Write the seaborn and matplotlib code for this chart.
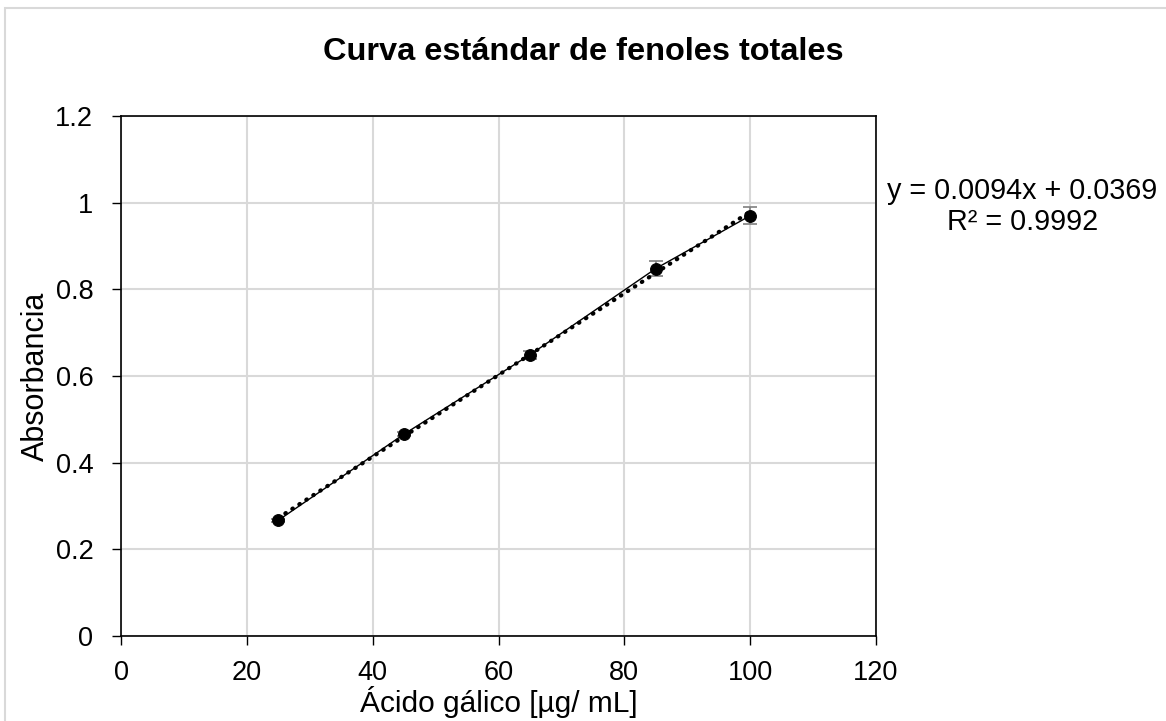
import matplotlib
matplotlib.use("Agg")
import matplotlib.pyplot as plt
import seaborn as sns
import pandas as pd
from matplotlib.patches import Rectangle

concentracion = [25, 45, 65, 85, 100]
absorbancia = [0.267, 0.466, 0.649, 0.848, 0.970]
error = [0.004, 0.005, 0.009, 0.018, 0.020]
x_ticks = [0, 20, 40, 60, 80, 100, 120]
y_ticks = [0, 0.2, 0.4, 0.6, 0.8, 1, 1.2]
y_tick_labels = ["0", "0.2", "0.4", "0.6", "0.8", "1", "1.2"]
titulo = "Curva estándar de fenoles totales"
ecuacion = "y = 0.0094x + 0.0369\nR² = 0.9992"

sns.set_theme(style="white")
plt.rcParams['font.family'] = ['Liberation Sans', 'DejaVu Sans']

df = pd.DataFrame({"x": concentracion, "y": absorbancia, "e": error})

fig = plt.figure(figsize=(11.66, 7.21), dpi=100)
ax = fig.add_axes([0.1038, 0.1179, 0.6475, 0.7212])

fig.patches.append(Rectangle((5/1166, -0.05), 1.05, 1 + 0.05 - 8/721,
                             transform=fig.transFigure, fill=False,
                             edgecolor="#d9d9d9", linewidth=1.5, zorder=0))

ax.grid(True, color="#d9d9d9", linewidth=1.5)
ax.set_axisbelow(True)

ax.errorbar(df["x"], df["y"], yerr=df["e"], fmt="none", ecolor="#7f7f7f",
            elinewidth=1.2, capsize=5, capthick=1.2, zorder=3)
sns.regplot(data=df, x="x", y="y", ax=ax, ci=None, scatter=False, truncate=True,
            line_kws=dict(color="black", linestyle=(0, (0.15, 1.85)), linewidth=3.0,
                          dash_capstyle="round", zorder=4))
sns.lineplot(data=df, x="x", y="y", ax=ax, color="black", linewidth=1,
             marker="o", markersize=8.5, markeredgecolor="black", zorder=5)

ax.set_xlim(0, 120)
ax.set_ylim(0, 1.2)
ax.set_xticks(x_ticks)
ax.set_yticks(y_ticks)
ax.set_yticklabels(y_tick_labels)
ax.tick_params(axis="both", labelsize=19.5, length=6.5, width=1, direction="out",
               colors="black", left=True, bottom=True)
ax.tick_params(axis="x", pad=11)
ax.tick_params(axis="y", pad=13.5)
for s in ax.spines.values():
    s.set_color("black")
    s.set_linewidth(1.2)

ax.set_xlabel("Ácido gálico [µg/ mL]", fontsize=21.5, labelpad=0, color="black")
ax.set_ylabel("Absorbancia", fontsize=22, labelpad=3, color="black")
fig.text(0.5, 0.928, titulo, ha="center", va="center", fontsize=23.4,
         fontweight="bold", color="black")
fig.text(0.877, 0.714, ecuacion, ha="center", va="center", fontsize=20.7,
         color="black", linespacing=1.15)

fig.savefig("out.png", dpi=100)
